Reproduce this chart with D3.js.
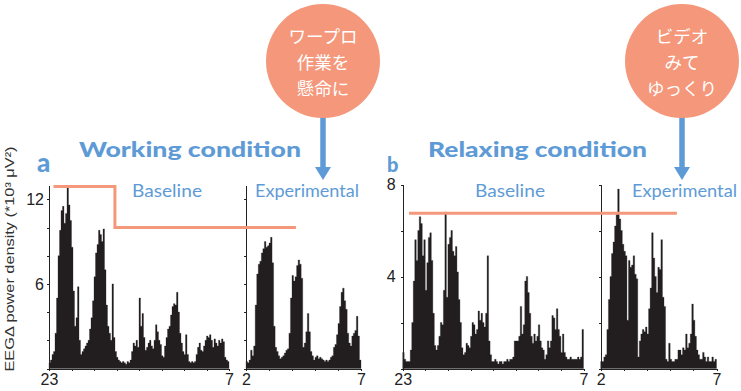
<!DOCTYPE html>
<html>
<head>
<meta charset="utf-8">
<script src="https://cdn.jsdelivr.net/npm/d3@7"></script>
<style>
  body { margin: 0; background: #fff; }
  svg { display: block; }
  .axis path, .axis line { stroke: #222; shape-rendering: crispEdges; }
  .axis text { font-family: "Liberation Sans", Arial, sans-serif; font-size: 16px; fill: #222; }
</style>
</head>
<body>
<svg id="chart" width="741" height="391"></svg>
<script>
// EEG delta power, one value per 4-min epoch (x10^3 uV^2)
// a: working condition, baseline night 23 -> 7
var workBaseline = [
  0.4, 0.6, 1.0, 1.2, 2.5, 5.0, 8.0, 9.8, 11.2, 11.5,
  10.3, 11.0, 12.8, 11.6, 10.5, 8.6, 5.5, 3.0, 3.6, 5.8,
  2.0, 1.0, 1.2, 1.4, 1.6, 1.8, 2.0, 2.8, 3.6, 4.8,
  6.5, 8.2, 8.8, 9.8, 9.5, 9.0, 9.9, 7.0, 4.5, 3.0,
  2.5, 2.0, 6.0, 2.2, 1.2, 0.8, 0.6, 0.5, 0.4, 0.5,
  0.4, 0.3, 0.5, 0.4, 0.6, 1.2, 1.8, 1.6, 2.0, 1.5,
  5.0, 3.0, 3.9, 2.2, 1.3, 1.5, 1.8, 2.0, 1.6, 1.4,
  2.0, 3.1, 2.6, 2.0, 1.7, 0.9, 0.8, 1.6, 2.2, 2.8,
  3.0, 3.8, 4.4, 4.6, 4.5, 5.4, 4.0, 2.5, 1.8, 1.2,
  1.0, 2.4, 1.0, 0.5, 0.4, 0.5, 0.4, 0.5, 1.0, 1.5,
  1.8, 1.3, 1.2, 1.6, 2.0, 2.3, 2.2, 2.4, 2.0, 1.5,
  2.1, 1.8, 1.6, 2.0, 1.8, 2.1, 1.9, 0.8, 0.6, 0.5
];
// a: experimental night 2 -> 7
var workExperimental = [
  0.5, 0.4, 0.6, 1.3, 0.9, 1.6, 4.5, 6.7, 7.4, 7.6,
  8.2, 8.5, 9.0, 8.6, 8.7, 8.9, 9.3, 7.5, 3.0, 1.5,
  1.2, 0.9, 0.7, 0.8, 0.9, 1.1, 1.3, 1.4, 2.5, 5.0,
  6.6, 6.2, 6.5, 7.3, 7.7, 7.4, 6.4, 1.5, 1.8, 2.6,
  3.9, 2.6, 1.2, 0.9, 0.6, 0.8, 0.9, 0.7, 0.8, 0.7,
  0.6, 0.5, 0.6, 0.5, 0.6, 0.8, 0.9, 1.5, 1.7, 2.4,
  3.2, 4.4, 5.4, 5.7, 4.8, 4.2, 2.5, 1.8, 1.6, 2.3,
  2.5, 2.7, 3.7, 2.3, 0.6
];
// b: relaxing condition, baseline night 23 -> 7
var relaxBaseline = [
  0.7, 0.4, 0.3, 0.3, 0.3, 0.8, 2.0, 3.8, 5.6, 4.7,
  6.0, 6.6, 6.3, 4.9, 5.6, 3.4, 4.6, 5.7, 5.9, 4.7,
  2.4, 1.0, 0.8, 1.0, 1.4, 2.0, 1.9, 3.4, 6.8, 3.1,
  5.4, 5.7, 6.0, 5.1, 4.9, 5.3, 4.2, 3.0, 2.0, 0.9,
  0.6, 0.7, 1.1, 1.0, 0.9, 1.4, 2.0, 1.9, 1.5, 1.7,
  2.5, 2.1, 2.4, 2.0, 1.8, 2.4, 4.9, 1.2, 0.6, 0.3,
  0.3, 0.4, 0.3, 0.2, 0.3, 0.3, 0.2, 0.3, 0.3, 0.4,
  0.3, 0.4, 0.4, 0.5, 1.2, 1.2, 1.2, 1.4, 2.7, 1.5,
  1.9, 3.8, 4.0, 3.3, 2.4, 1.4, 1.1, 1.5, 1.2, 1.4,
  1.9, 1.2, 0.9, 0.8, 0.4, 0.6, 1.2, 0.9, 1.2, 2.3,
  2.2, 1.7, 2.6, 1.7, 1.4, 0.7, 1.5, 0.7, 0.5, 0.4,
  0.4, 0.5, 0.4, 0.4, 0.4, 0.4, 0.5, 0.4, 0.5, 1.7
];
// b: experimental night 2 -> 7
var relaxExperimental = [
  0.3, 0.3, 0.5, 0.6, 1.7, 3.0, 4.0, 5.0, 5.5, 6.2,
  6.7, 7.8, 6.5, 6.0, 5.4, 5.1, 4.9, 2.1, 4.7, 4.4,
  4.5, 4.9, 4.1, 3.9, 0.5, 1.2, 1.5, 1.7, 1.6, 1.8,
  1.5, 2.6, 3.5, 5.9, 4.8, 4.0, 3.3, 4.4, 4.3, 5.6,
  3.1, 2.7, 0.4, 0.3, 1.1, 0.4, 0.3, 0.3, 0.4, 0.4,
  0.8, 0.8, 0.6, 0.9, 0.8, 1.5, 0.9, 1.1, 1.5, 2.8,
  2.1, 1.4, 0.8, 0.6, 0.4, 0.4, 0.7, 0.5, 0.3, 0.5,
  0.3, 0.3, 0.5, 0.3, 0.4
];

var baselineHours = [23, 31];      // 23:00 -> 7:00
var experimentalHours = [2, 7];    // 2:00 -> 7:00
var epochHours = 4 / 60;

var yTicksWork = [6, 12];
var yTicksRelax = [4, 8];
// reference levels drawn in orange
var workLevels = [12.9, 10.0];
var workLevelHours = [23.2, 25.93, 4.17];   // start (baseline), step (baseline), end (experimental)
var relaxLevel = 6.75;
var relaxLevelHours = [23.28, 5.29];         // start (baseline), end (experimental)

var workBubble = ["ワープロ", "作業を", "懸命に"];
var relaxBubble = ["ビデオ", "みて", "ゆっくり"];

var blue = "#5e9bd6", salmon = "#f4977a", ink = "#221e1f";

var svg = d3.select("#chart");

function panel(opts) {
  var xb = d3.scaleLinear().domain(baselineHours).range(opts.baseRange);
  var xe = d3.scaleLinear().domain(experimentalHours).range(opts.expRange);
  var y = d3.scaleLinear().domain([0, opts.yMax]).range([368.5, opts.yTop]);

  function drawArea(vals, x, start) {
    var pts = vals.map(function(v, i) { return {h: start + i * epochHours, v: v}; });
    pts.push({h: start + vals.length * epochHours, v: vals[vals.length - 1]});
    var area = d3.area()
        .curve(d3.curveStepAfter)
        .x(function(d) { return x(d.h); })
        .y0(y(0))
        .y1(function(d) { return y(d.v); });
    svg.append("path")
        .datum(pts)
        .attr("fill", ink)
        .attr("stroke", ink)
        .attr("stroke-width", 0.3)
        .attr("d", area);
  }
  drawArea(opts.base, xb, baselineHours[0]);
  drawArea(opts.exp, xe, experimentalHours[0]);

  var tickVals = d3.range(0, opts.yMax + 0.01, 2);
  svg.append("g")
      .attr("class", "axis")
      .attr("transform", "translate(" + opts.baseRange[0] + ",0)")
      .call(d3.axisLeft(y).tickValues(tickVals).tickSize(2).tickSizeOuter(0)
        .tickPadding(opts.pad)
        .tickFormat(function(d) { return opts.yLabels.indexOf(d) >= 0 ? d : ""; }));
  svg.append("g")
      .attr("class", "axis")
      .attr("transform", "translate(" + opts.expRange[0] + ",0)")
      .call(d3.axisLeft(y).tickValues(tickVals).tickSize(2).tickSizeOuter(0).tickFormat(""));

  svg.append("g")
      .attr("class", "axis")
      .attr("transform", "translate(0,369)")
      .call(d3.axisBottom(xb).tickValues(d3.range(23, 31.01, 1)).tickSize(2).tickSizeOuter(0)
        .tickPadding(3)
        .tickFormat(function(d) { return (d === 23 || d === 31) ? d % 24 : ""; }));
  svg.append("g")
      .attr("class", "axis")
      .attr("transform", "translate(0,369)")
      .call(d3.axisBottom(xe).tickValues(d3.range(2, 7.01, 1)).tickSize(2).tickSizeOuter(0)
        .tickPadding(3)
        .tickFormat(function(d) { return (d === 2 || d === 7) ? d : ""; }));

  return {xb: xb, xe: xe, y: y};
}

var a = panel({
  base: workBaseline, exp: workExperimental,
  baseRange: [49, 229], expRange: [246, 361],
  yMax: 13, yTop: 185.2, yLabels: yTicksWork, pad: 3
});
var b = panel({
  base: relaxBaseline, exp: relaxExperimental,
  baseRange: [402.7, 583.5], expRange: [600.7, 716.5],
  yMax: 8, yTop: 184.5, yLabels: yTicksRelax, pad: 5
});

// orange reference lines
var lineGen = d3.line();
svg.append("path")
    .attr("fill", "none").attr("stroke", salmon).attr("stroke-width", 3)
    .attr("d", lineGen([
      [a.xb(workLevelHours[0]), a.y(workLevels[0])],
      [a.xb(workLevelHours[1]), a.y(workLevels[0])],
      [a.xb(workLevelHours[1]), a.y(workLevels[1])],
      [a.xe(workLevelHours[2]), a.y(workLevels[1])]
    ]));
svg.append("path")
    .attr("fill", "none").attr("stroke", salmon).attr("stroke-width", 3)
    .attr("d", lineGen([
      [b.xb(relaxLevelHours[0]), b.y(relaxLevel)],
      [b.xe(relaxLevelHours[1]), b.y(relaxLevel)]
    ]));

// blue labels
function blueText(txt, x, y, size, weight, len) {
  var t = svg.append("text")
      .attr("x", x).attr("y", y)
      .attr("fill", blue)
      .style("font-family", "Lato, 'Open Sans', sans-serif")
      .style("font-size", size + "px")
      .style("font-weight", weight)
      .text(txt);
  if (len) t.attr("textLength", len).attr("lengthAdjust", "spacingAndGlyphs");
  return t;
}
blueText("a", 37, 172, 26, 900);
blueText("b", 387, 172, 20, 900);
blueText("Working condition", 79, 157, 21, 900, 222);
blueText("Relaxing condition", 428, 157, 21, 900, 219);
blueText("Baseline", 132, 197, 17, 400, 70);
blueText("Experimental", 255, 197, 17, 400, 104);
blueText("Baseline", 475, 197, 17, 400, 70);
blueText("Experimental", 632, 197, 17, 400, 105);

// y axis title
svg.append("text")
    .attr("transform", "translate(14,259) rotate(-90)")
    .attr("text-anchor", "middle")
    .attr("fill", "#333")
    .style("font-family", "'Liberation Sans', Arial, sans-serif")
    .style("font-size", "13px")
    .attr("textLength", 225)
    .attr("lengthAdjust", "spacingAndGlyphs")
    .text("EEGΔ  power density  (*10³ μV²)");

// bubbles with arrows
function bubble(cx, cy, r, lines) {
  svg.append("line")
      .attr("x1", cx).attr("x2", cx)
      .attr("y1", cy + r - 2).attr("y2", 169)
      .attr("stroke", blue).attr("stroke-width", 5.5);
  svg.append("path")
      .attr("fill", blue)
      .attr("d", "M" + (cx - 8) + ",167 L" + (cx + 8) + ",167 L" + cx + ",180 Z");
  svg.append("circle")
      .attr("cx", cx).attr("cy", cy).attr("r", r)
      .attr("fill", salmon);
  lines.forEach(function(s, i) {
    svg.append("text")
        .attr("x", cx).attr("y", cy - 26 + i * 26)
        .attr("text-anchor", "middle")
        .attr("dominant-baseline", "central")
        .attr("fill", "#fff")
        .style("font-family", "'Noto Sans CJK JP', sans-serif")
        .style("font-size", "17.5px")
        .text(s);
  });
}
bubble(323, 61, 57, workBubble);
bubble(682, 61, 57, relaxBubble);
</script>
</body>
</html>
